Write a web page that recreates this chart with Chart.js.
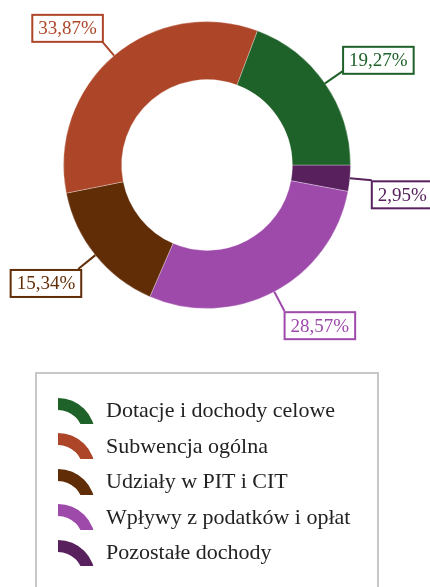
<!DOCTYPE html>
<html>
<head>
<meta charset="utf-8">
<script src="https://cdn.jsdelivr.net/npm/chart.js@4/dist/chart.umd.min.js"></script>
<style>
  html, body { margin: 0; padding: 0; background: #fff; }
  body { width: 430px; height: 587px; position: relative; overflow: hidden; font-family: "Liberation Serif", "DejaVu Serif", serif; }
  #chart-wrap { position: absolute; left: 0; top: 0; width: 430px; height: 345px; }
  #legend {
    position: absolute; left: 35px; top: 372px; width: 340px; height: 240px;
    border: 2px solid #c8c8c8; background: #fff;
  }
  .leg-row { position: absolute; left: 21px; height: 30px; display: flex; align-items: center; }
  .leg-row canvas { display: block; margin-right: 10px; }
  .leg-row span { font-size: 22px; color: #222; white-space: nowrap; }
</style>
</head>
<body>
<div id="chart-wrap"><canvas id="c"></canvas></div>
<div id="legend"></div>
<script>
  // legend order (the ring runs counter-clockwise from 3 o'clock in this order)
  const labels = ['Dotacje i dochody celowe', 'Subwencja ogólna', 'Udziały w PIT i CIT', 'Wpływy z podatków i opłat', 'Pozostałe dochody'];
  const values = [19.27, 33.87, 15.34, 28.57, 2.95];
  const colors = ['#1f6229', '#ad4628', '#612d07', '#9e4aab', '#58215e'];

  function fmtPct(v) {
    return v.toFixed(2).replace('.', ',') + '%';
  }

  // Chart.js only goes clockwise, so feed it reversed and start at 90deg
  const rLabels = labels.slice().reverse();
  const rValues = values.slice().reverse();
  const rColors = colors.slice().reverse();

  const calloutPlugin = {
    id: 'callouts',
    afterDatasetsDraw(chart) {
      const ctx = chart.ctx;
      const meta = chart.getDatasetMeta(0);
      ctx.save();
      ctx.font = '19px "Liberation Serif", serif';
      ctx.textBaseline = 'middle';
      ctx.textAlign = 'left';
      meta.data.forEach((arc, i) => {
        const p = arc.getProps(['x', 'y', 'startAngle', 'endAngle', 'outerRadius'], true);
        const mid = (p.startAngle + p.endAngle) / 2;
        const cos = Math.cos(mid), sin = Math.sin(mid);
        const x1 = p.x + cos * p.outerRadius, y1 = p.y + sin * p.outerRadius;
        const x2 = p.x + cos * (p.outerRadius + 22), y2 = p.y + sin * (p.outerRadius + 22);
        const col = rColors[i];
        ctx.strokeStyle = col;
        ctx.lineWidth = 2;
        ctx.beginPath();
        ctx.moveTo(x1, y1);
        ctx.lineTo(x2, y2);
        ctx.stroke();

        const txt = fmtPct(rValues[i]);
        const w = ctx.measureText(txt).width + 12;
        const h = 27;
        const bx = cos >= 0 ? x2 : x2 + 3 - w;
        const by = sin >= 0 ? y2 + 1 : y2 + 3 - h;
        ctx.fillStyle = '#fff';
        ctx.fillRect(bx, by, w, h);
        ctx.lineWidth = 2;
        ctx.strokeRect(bx, by, w, h);
        ctx.fillStyle = col;
        ctx.fillText(txt, bx + 6, by + h / 2 + 1);
      });
      ctx.restore();
    }
  };

  new Chart(document.getElementById('c'), {
    type: 'doughnut',
    data: {
      labels: rLabels,
      datasets: [{
        data: rValues,
        backgroundColor: rColors,
        borderColor: 'rgba(255,255,255,0.3)',
        borderWidth: 1
      }]
    },
    options: {
      responsive: true,
      maintainAspectRatio: false,
      animation: false,
      rotation: 90,
      cutout: '59.5%',
      layout: { padding: { left: 63, right: 79, top: 21, bottom: 36 } },
      plugins: {
        legend: { display: false },
        tooltip: { enabled: false }
      }
    },
    plugins: [calloutPlugin]
  });

  // html legend with little ring-segment icons
  const legend = document.getElementById('legend');
  labels.forEach((lab, i) => {
    const row = document.createElement('div');
    row.className = 'leg-row';
    row.style.top = (21 + i * 35.6) + 'px';
    const ic = document.createElement('canvas');
    ic.width = 38; ic.height = 27;
    const g = ic.getContext('2d');
    g.fillStyle = colors[i];
    g.beginPath();
    g.arc(0, 38, 37, -Math.PI / 2, 0);
    g.arc(0, 38, 25, 0, -Math.PI / 2, true);
    g.closePath();
    g.fill();
    const sp = document.createElement('span');
    sp.textContent = lab;
    row.appendChild(ic);
    row.appendChild(sp);
    legend.appendChild(row);
  });
</script>
</body>
</html>
